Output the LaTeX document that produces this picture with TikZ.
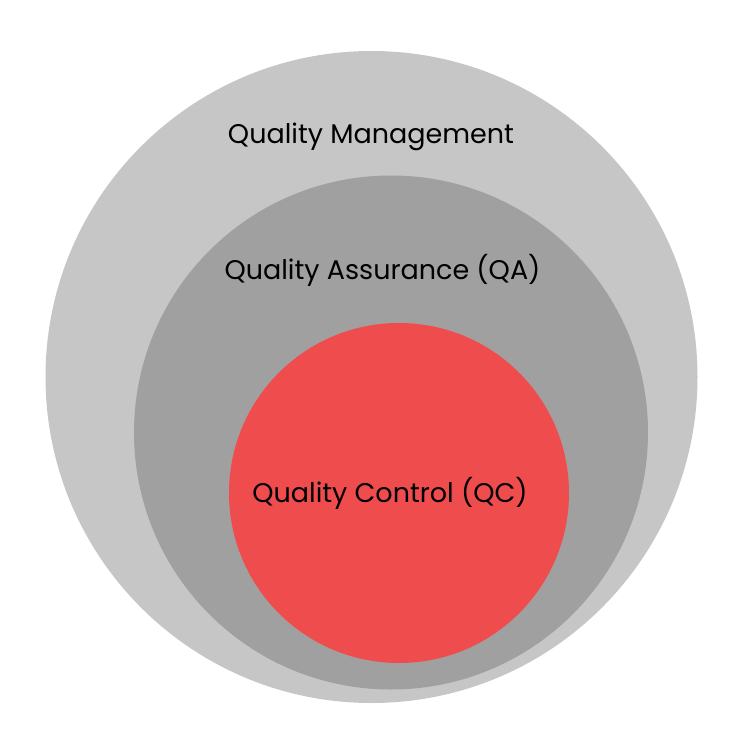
\documentclass[tikz,border=0pt]{standalone}
\usepackage{fontspec}
\setmainfont{Poppins}
\definecolor{outergray}{HTML}{C6C6C6}
\definecolor{midgray}{HTML}{A0A0A0}
\definecolor{qcred}{HTML}{EF4D4D}
\begin{document}
\begin{tikzpicture}[x=1pt,y=-1pt,
  ring/.style={circle,inner sep=0pt,minimum size=#1},
  lbl/.style={font=\fontsize{27}{32}\selectfont,text=black,inner sep=0pt}]
\useasboundingbox (0,0) rectangle (750,730);
\node[ring=652pt,fill=outergray] (qm) at (371.5,377) {};
\node[ring=514pt,fill=midgray] (qa) at (391,432.5) {};
\node[ring=340pt,fill=qcred] (qc) at (399,493) {};
\node[lbl] (qmt) at (371,137) {Quality Management};
\node[lbl] (qat) at (382.5,270) {Quality Assurance (QA)};
\node[lbl] (qct) at (390,493) {Quality Control (QC)};
\end{tikzpicture}
\end{document}
